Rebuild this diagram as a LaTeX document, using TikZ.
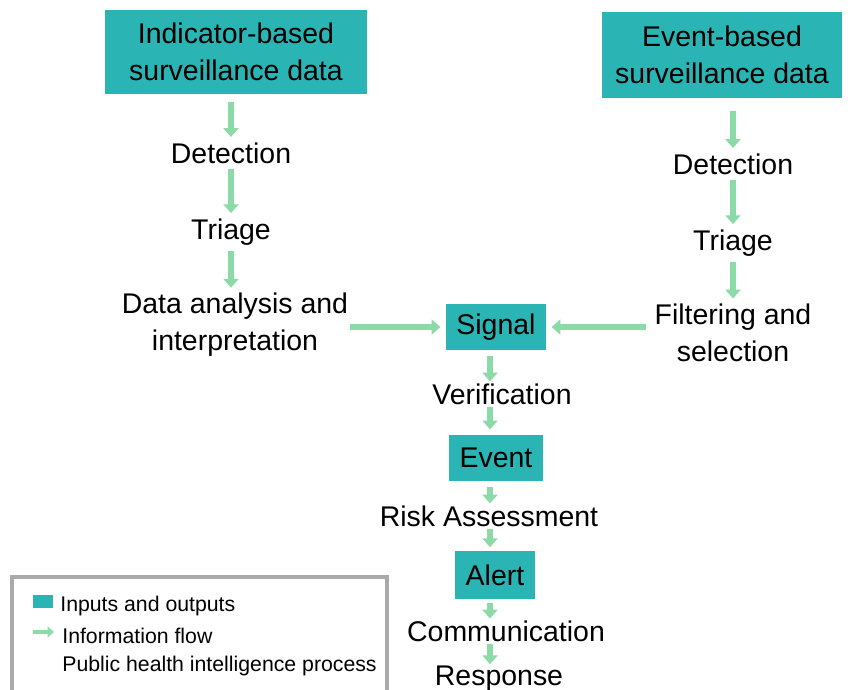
\documentclass[tikz,border=0pt]{standalone}
\usepackage{fontspec}
\setmainfont{Liberation Sans}
\usetikzlibrary{arrows.meta,positioning}

\definecolor{boxteal}{RGB}{42,180,180}
\definecolor{flowgreen}{RGB}{140,218,168}
\definecolor{legendgray}{RGB}{170,170,170}

\newcommand{\mainsize}{\fontsize{16.2}{21}\selectfont}
\newcommand{\legsize}{\fontsize{12.1}{14}\selectfont}

\begin{document}
\begin{tikzpicture}
	% Styles
	[
	x=0.02cm, y=-0.02cm,
	io/.style={fill=boxteal, inner sep=0pt, align=center, font=\mainsize},
	proc/.style={inner sep=1pt, align=center, font=\mainsize},
	flow/.style={draw=flowgreen, line width=3.2pt, -{Triangle[length=5pt,width=8.5pt]}},
	legflow/.style={draw=flowgreen, line width=2.3pt, -{Triangle[length=3.6pt,width=6pt]}},
	legtext/.style={anchor=west, inner sep=0pt, font=\legsize},
	]
	\useasboundingbox (0,0) rectangle (853,690);

	% Nodes: indicator-based branch
	\node at (236,52)	(ibs)	[io, minimum width=5.24cm, minimum height=1.70cm] {Indicator-based\\surveillance data};
	\node at (231,153)	(det1)	[proc] {Detection};
	\node at (231,232)	(tri1)	[proc] {Triage};
	\node at (235,325)	(ana)	[proc] {Data analysis and\\interpretation};

	% Nodes: event-based branch
	\node at (722,55)	(ebs)	[io, minimum width=4.82cm, minimum height=1.72cm] {Event-based\\surveillance data};
	\node at (733,164)	(det2)	[proc] {Detection};
	\node at (733,243)	(tri2)	[proc] {Triage};
	\node at (733,333)	(fil)	[proc] {Filtering and\\selection};

	% Nodes: common chain
	\node at (496,327)	(sig)	[io, minimum width=2.00cm, minimum height=0.94cm] {Signal};
	\node at (502,394)	(ver)	[proc] {Verification};
	\node at (496,458)	(evt)	[io, minimum width=1.88cm, minimum height=0.92cm] {Event};
	\node at (489,516)	(risk)	[proc] {Risk Assessment};
	\node at (495,575)	(alr)	[io, minimum width=1.60cm, minimum height=0.96cm] {Alert};
	\node at (506,631)	(com)	[proc] {Communication};
	\node at (499,679)	(res)	[proc] {Response};

	% Connections
	\draw[flow, shorten <=4pt, shorten >=2pt] (ibs.south -| det1) -- (det1.north);
	\draw[flow, shorten <=2pt, shorten >=2pt] (det1) -- (tri1);
	\draw[flow, shorten <=2pt, shorten >=2pt] (tri1.south) -- (ana.north -| tri1);
	\draw[flow, shorten <=7pt, shorten >=2pt] (ebs.south -| det2) -- (det2.north);
	\draw[flow, shorten <=2pt, shorten >=2pt] (det2) -- (tri2);
	\draw[flow, shorten <=2pt, shorten >=2pt] (tri2.south) -- (fil.north);
	\draw[flow, shorten >=3pt] (ana.east |- sig) -- (sig.west);
	\draw[flow, shorten <=4pt, shorten >=3pt] (fil.west |- sig) -- (sig.east);
	\draw[flow, shorten <=3pt] (sig.south -| 490,0) -- (ver.north -| 490,0);
	\draw[flow, shorten >=3pt] (ver.south -| 490,0) -- (evt.north -| 490,0);
	\draw[flow, shorten <=3pt] (evt.south -| 490,0) -- (risk.north -| 490,0);
	\draw[flow, shorten >=2pt] (risk.south -| 490,0) -- (alr.north -| 490,0);
	\draw[flow, shorten <=2pt] (alr.south -| 490,0) -- (com.north -| 490,0);
	\draw[flow] (com.south -| 490,0) -- (res.north -| 490,0);

	% Legend
	\draw[legendgray, line width=1.8pt] (12,577) rectangle (387,700);
	\node at (43,601)	(legsq)	[fill=boxteal, minimum width=0.40cm, minimum height=0.26cm, inner sep=0pt] {};
	\node at (60,606)	(legio)	[legtext] {Inputs and outputs};
	\coordinate (lega) at (33,632);
	\coordinate (legb) at (54,632);
	\draw[legflow] (lega) -- (legb);
	\node at (62,636)	(legfl)	[legtext] {Information flow};
	\node at (62,666)	(legph)	[legtext] {Public health intelligence process};
\end{tikzpicture}
\end{document}
